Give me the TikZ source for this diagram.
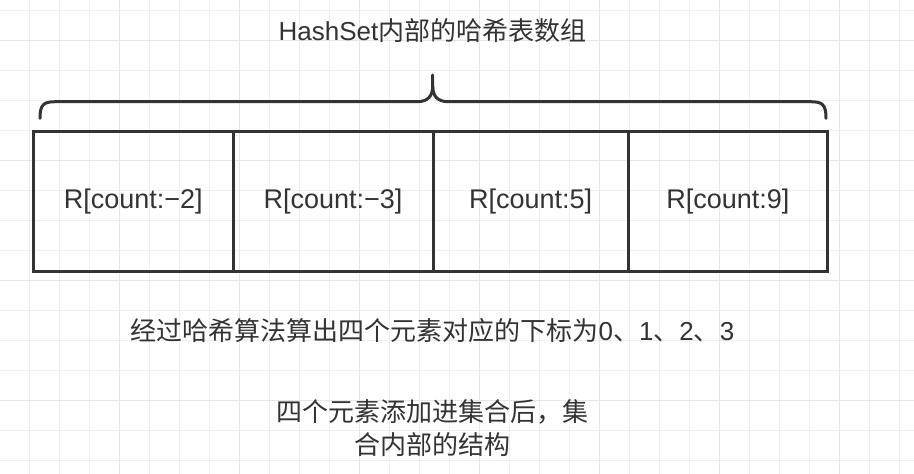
\documentclass[tikz,border=0pt]{standalone}
\usepackage{fontspec}
\setmainfont{Liberation Sans}
\newfontfamily\cjk{Noto Sans CJK SC}
\definecolor{ink}{HTML}{333333}
\definecolor{gridminor}{HTML}{F0F0F0}
\definecolor{gridmajor}{HTML}{E6E6E6}
\begin{document}
\begin{tikzpicture}[x=1pt,y=-1pt,
  cell/.style={draw=ink, line width=3pt, minimum height=140pt, inner sep=0pt,
    text=ink, font=\fontsize{27}{32}\selectfont},
  txt/.style={text=ink, inner sep=0pt, align=center},
  bracepath/.style={draw=ink, line width=3pt, line cap=round, line join=round},
  minorline/.style={draw=gridminor, line width=1.5pt},
  majorline/.style={draw=gridmajor, line width=1.5pt}]
\fill[white] (0,0) rectangle (914,474);
\useasboundingbox (0,0) rectangle (914,474);
% grid
\foreach \x in {29.3,59.3,...,914} \draw[minorline] (\x,0) -- (\x,474);
\foreach \y in {10.7,40.7,...,474} \draw[minorline] (0,\y) -- (914,\y);
\foreach \x in {119.3,239.3,...,914} \draw[majorline] (\x,0) -- (\x,474);
\foreach \y in {40.7,160.7,...,474} \draw[majorline] (0,\y) -- (914,\y);
% cells
\node[cell, minimum width=199.5pt] (c0) at (133.25,201.7) {R[count:−2]};
\node[cell, minimum width=200pt]   (c1) at (333,201.7) {R[count:−3]};
\node[cell, minimum width=195.3pt] (c2) at (530.65,201.7) {R[count:5]};
\node[cell, minimum width=199pt]   (c3) at (727.8,201.7) {R[count:9]};
% brace
\coordinate (bl) at (40,118.3);
\coordinate (br) at (826,118.3);
\coordinate (tip) at (432.7,75);
\draw[bracepath] (bl) .. controls (40,104) and (44,101.7) .. (56,101.7) -- (417,101.7)
  .. controls (428,101.7) and (432.7,96) .. (432.7,86) -- (tip);
\draw[bracepath] (br) .. controls (826,104) and (822,101.7) .. (810,101.7) -- (448.4,101.7)
  .. controls (437.4,101.7) and (432.7,96) .. (432.7,86);
% texts
\node[txt, font=\fontsize{26}{30}\selectfont] (title) at (432.5,31) {HashSet{\cjk 内部的哈希表数组}};
\node[txt, font=\fontsize{26}{30}\selectfont] (hashnote) at (432.5,331)
  {{\cjk 经过哈希算法算出四个元素对应的下标为}0{\cjk 、}1{\cjk 、}2{\cjk 、}3};
\node[txt, font=\cjk\fontsize{26}{33}\selectfont] (caption) at (432.5,428.5)
  {四个元素添加进集合后，集\\合内部的结构};
\end{tikzpicture}
\end{document}
